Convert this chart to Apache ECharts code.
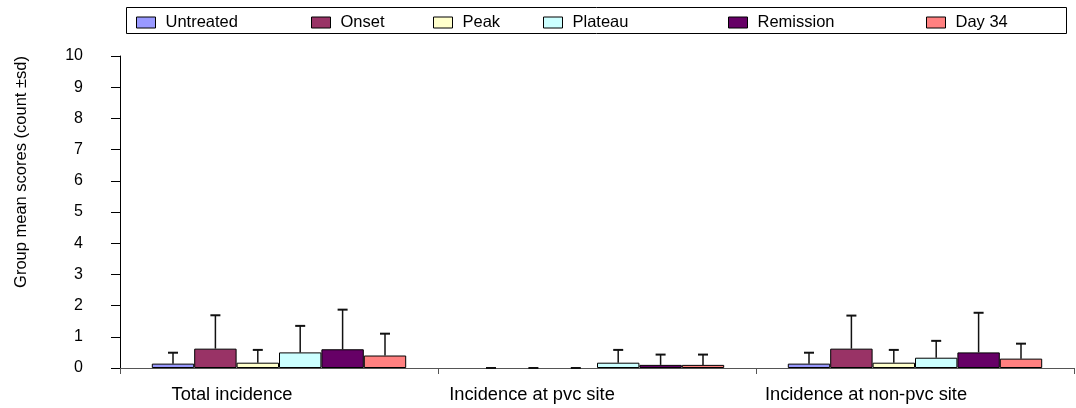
<!DOCTYPE html>
<html>
<head>
<meta charset="utf-8">
<script src="https://cdn.jsdelivr.net/npm/echarts@6/dist/echarts.min.js"></script>
<style>html,body{margin:0;padding:0;background:#fff;}#c{width:1076px;height:408px;}</style>
</head>
<body>
<div id="c"></div>
<script>
const categories = ['Total incidence', 'Incidence at pvc site', 'Incidence at non-pvc site'];
const seriesNames = ['Untreated', 'Onset', 'Peak', 'Plateau', 'Remission', 'Day 34'];
const untreatedMean = [0.14, 0, 0.14];
const onsetMean = [0.62, 0, 0.62];
const peakMean = [0.17, 0, 0.17];
const plateauMean = [0.50, 0.17, 0.33];
const remissionMean = [0.60, 0.10, 0.50];
const day34Mean = [0.40, 0.10, 0.30];
const untreatedSd = [0.35, 0, 0.35];
const onsetSd = [1.07, 0, 1.06];
const peakSd = [0.41, 0, 0.41];
const plateauSd = [0.85, 0.41, 0.54];
const remissionSd = [1.27, 0.33, 1.27];
const day34Sd = [0.70, 0.33, 0.48];
const yTicks = [0, 1, 2, 3, 4, 5, 6, 7, 8, 9, 10];

const means = [untreatedMean, onsetMean, peakMean, plateauMean, remissionMean, day34Mean];
const sds = [untreatedSd, onsetSd, peakSd, plateauSd, remissionSd, day34Sd];
const colors = ['#9999FF', '#993366', '#FFFFCC', '#CCFFFF', '#660066', '#FF8080'];
const legendLeft = [136, 311, 433, 543, 728, 926];
const labelShift = [94, 130, 98];
const font = 'Liberation Sans, Arial, sans-serif';

const barSeries = seriesNames.map((n, i) => ({
  name: n, type: 'bar', data: means[i].map(v => (v === 0 ? '-' : v)),
  barGap: 0, barCategoryGap: '20%',
  itemStyle: { color: colors[i], borderColor: '#000', borderWidth: 1 },
  emphasis: { disabled: true }
}));

const errData = [];
seriesNames.forEach((n, s) => {
  categories.forEach((c, ci) => { errData.push([ci, s, means[s][ci], sds[s][ci]]); });
});

const errSeries = {
  type: 'custom',
  data: errData,
  encode: { x: 0, y: 2 },
  z: 5,
  renderItem: function (params, api) {
    const c = api.value(0), s = api.value(1), v = api.value(2), sd = api.value(3);
    const bandW = api.size([1, 0])[0];
    const bw = bandW * 0.8 / 6;
    const p0 = api.coord([c, v]);
    const p1 = api.coord([c, v + sd]);
    const x = p0[0] + (s - 2.5) * bw;
    const st = { stroke: '#111', lineWidth: 1.5 };
    return {
      type: 'group',
      children: [
        { type: 'line', shape: { x1: x, y1: p0[1], x2: x, y2: p1[1] }, style: st },
        { type: 'line', shape: { x1: x - 5, y1: p1[1], x2: x + 5, y2: p1[1] }, style: { stroke: '#111', lineWidth: 2 } }
      ]
    };
  }
};

const legends = seriesNames.map((n, i) => ({
  data: [n], left: legendLeft[i], top: 14, padding: 0,
  icon: 'rect', itemWidth: 19, itemHeight: 11,
  itemStyle: { borderColor: '#000', borderWidth: 1 },
  selectedMode: false,
  textStyle: { fontFamily: font, fontSize: 16.5, color: '#000', lineHeight: 16, padding: [0, 0, 0, 5] }
}));

const rich = {};
labelShift.forEach((p, i) => {
  rich['c' + i] = { fontFamily: font, fontSize: 18.3, color: '#000', padding: [0, p, 0, 0] };
});

const chart = echarts.init(document.getElementById('c'), null, { renderer: 'canvas' });
chart.setOption({
  animation: false,
  backgroundColor: '#fff',
  graphic: [{
    type: 'rect', left: 126, top: 7, z: -1,
    shape: { width: 940, height: 26 },
    style: { fill: '#fff', stroke: '#000', lineWidth: 1 }
  }],
  legend: legends,
  grid: { left: 120, top: 56, width: 954, height: 312, containLabel: false },
  xAxis: {
    type: 'category', data: categories,
    axisLine: { lineStyle: { color: '#555', width: 1 } },
    axisTick: { show: true, length: 6, lineStyle: { color: '#555' } },
    axisLabel: {
      fontFamily: font, fontSize: 18.3, color: '#000', margin: 18,
      formatter: function (val, idx) { return '{c' + idx + '|' + val + '}'; },
      rich: rich
    },
    splitLine: { show: false }
  },
  yAxis: {
    type: 'value', min: yTicks[0], max: yTicks[yTicks.length - 1], interval: 1,
    name: 'Group mean scores (count ±sd)', nameLocation: 'middle', nameGap: 90,
    nameTextStyle: { fontFamily: font, fontSize: 16.5, color: '#000', padding: [0, 0, 0, 80] },
    axisLine: { show: true, lineStyle: { color: '#000', width: 1 } },
    axisTick: { show: true, length: 9, lineStyle: { color: '#000' } },
    axisLabel: { fontFamily: font, fontSize: 16, color: '#000', margin: 37 },
    splitLine: { show: false }
  },
  series: barSeries.concat([errSeries])
});
</script>
</body>
</html>
